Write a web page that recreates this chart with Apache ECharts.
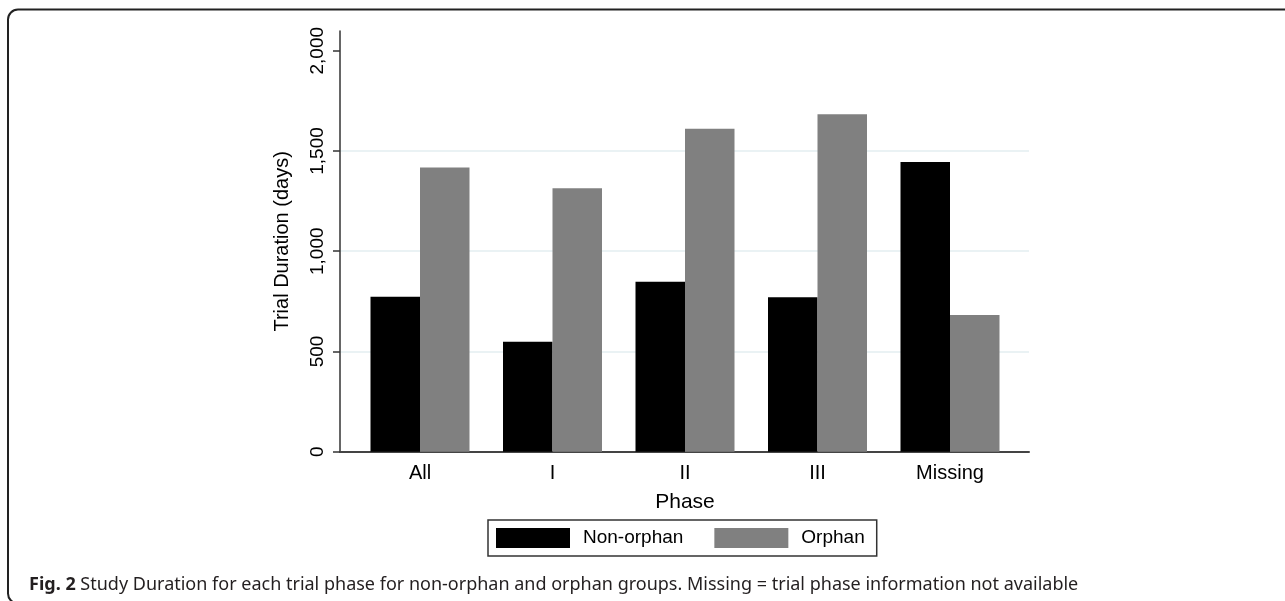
<!DOCTYPE html>
<html>
<head>
<meta charset="utf-8">
<title>Study Duration</title>
<script src="https://cdn.jsdelivr.net/npm/echarts@6/dist/echarts.min.js"></script>
<style>
    html, body { margin: 0; padding: 0; background: #fff; }
    #chart { width: 1285px; height: 601px; }
</style>
</head>
<body>
<div id="chart"></div>
<script>
// 数据
var phases = ['All', 'I', 'II', 'III', 'Missing'];
var nonOrphan = [773, 549, 848, 770, 1445];
var orphan = [1418, 1314, 1611, 1683, 682];
var yTicks = [0, 500, 1000, 1500, 2000];

var font = "'Liberation Sans', Arial, sans-serif";

var myChart = echarts.init(document.getElementById('chart'));
var option = {
    animation: false,
    // 外框
    graphic: [
        {
            type: 'rect',
            shape: { x: 8, y: 9.5, width: 1320, height: 594, r: 10 },
            style: { fill: 'none', stroke: '#222', lineWidth: 2 }
        }
    ],
    // 图注
    title: {
        text: '{b|Fig. 2} Study Duration for each trial phase for non-orphan and orphan groups. Missing = trial phase information not available',
        left: 24,
        top: 571,
        textStyle: {
            fontFamily: "'Noto Sans', sans-serif",
            fontSize: 18,
            fontWeight: 'normal',
            color: '#231f20',
            rich: {
                b: { fontFamily: "'Noto Sans', sans-serif", fontSize: 18, fontWeight: 'bold', color: '#231f20' }
            }
        }
    },
    legend: {
        data: ['Non-orphan', 'Orphan'],
        left: 488,
        top: 520,
        padding: [8, 12, 8, 8],
        itemWidth: 74,
        itemHeight: 20,
        itemGap: 31,
        icon: 'rect',
        backgroundColor: '#fff',
        borderColor: '#333',
        borderWidth: 1.5,
        textStyle: { fontFamily: font, fontSize: 19, color: '#000', padding: [0, 0, 0, 8] }
    },
    grid: [
        // 坐标轴线
        { left: 340, top: 31, width: 689, height: 420.7 },
        // 刻度与网格线
        { left: 340, top: 50.7, width: 689, height: 401 },
        // 柱子
        { left: 353.75, top: 50.7, width: 662.5, height: 401 }
    ],
    xAxis: [
        {
            gridIndex: 0, type: 'value', min: 0, max: 1,
            axisLine: { show: true, lineStyle: { color: '#444', width: 2 } },
            axisTick: { show: false }, axisLabel: { show: false }, splitLine: { show: false }
        },
        {
            gridIndex: 1, type: 'value', min: 0, max: 1, show: false
        },
        {
            gridIndex: 2, type: 'category', data: phases,
            axisLine: { show: false }, axisTick: { show: false },
            axisLabel: { fontFamily: font, fontSize: 20, color: '#000', margin: 12 },
            name: 'Phase', nameLocation: 'middle', nameGap: 40,
            nameTextStyle: { fontFamily: font, fontSize: 21, color: '#000' }
        }
    ],
    yAxis: [
        {
            gridIndex: 0, type: 'value', min: 0, max: 2100,
            axisLine: { show: true, lineStyle: { color: '#333', width: 1.5 } },
            axisTick: { show: false }, axisLabel: { show: false }, splitLine: { show: false },
            name: 'Trial Duration (days)', nameLocation: 'middle', nameGap: 48,
            nameTextStyle: { fontFamily: font, fontSize: 20, color: '#000' }
        },
        {
            gridIndex: 1, type: 'value', min: yTicks[0], max: yTicks[yTicks.length - 1], interval: 500,
            axisLine: { show: false },
            axisTick: { show: true, length: 7, lineStyle: { color: '#333', width: 1.5 } },
            axisLabel: {
                fontFamily: font, fontSize: 19, color: '#000', rotate: 90, margin: 13,
                formatter: function (v) { return v.toLocaleString('en-US'); }
            },
            splitLine: { show: true, showMinLine: false, showMaxLine: false, lineStyle: { color: '#e3eef0', width: 1.5 } }
        },
        {
            gridIndex: 2, type: 'value', min: yTicks[0], max: yTicks[yTicks.length - 1], show: false
        }
    ],
    series: [
        {
            name: 'Non-orphan', type: 'bar', xAxisIndex: 2, yAxisIndex: 2,
            data: nonOrphan, barWidth: 49.5, barGap: '0%',
            itemStyle: { color: '#000' }
        },
        {
            name: 'Orphan', type: 'bar', xAxisIndex: 2, yAxisIndex: 2,
            data: orphan, barWidth: 49.5, barGap: '0%',
            itemStyle: { color: '#808080' }
        }
    ]
};
myChart.setOption(option);
</script>
</body>
</html>
